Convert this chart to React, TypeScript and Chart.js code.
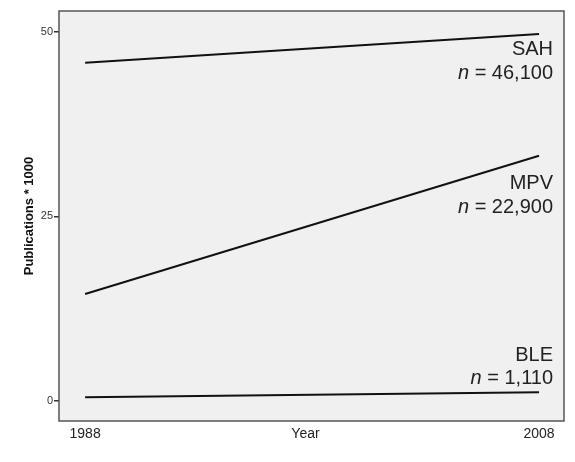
import React, { useEffect, useRef } from "react";
import { Chart, registerables } from "chart.js";

Chart.register(...registerables);

const years = [1988, 2008];
const seriesNames = ["SAH", "MPV", "BLE"];
const sahValues = [45.8, 49.7];
const mpvValues = [14.5, 33.2];
const bleValues = [0.5, 1.2];
const seriesCounts = ["46,100", "22,900", "1,110"];
const yTicks = [0, 25, 50];
const xTicks = [1988, 2008];

const FONT = "'Liberation Sans', Arial, sans-serif";

export default function App() {
  const ref = useRef<HTMLCanvasElement | null>(null);

  useEffect(() => {
    const canvas = ref.current;
    if (!canvas) return;
    const all = [sahValues, mpvValues, bleValues];
    // label offsets relative to each series' last point (px): [nameDy, countDy]
    const labelOffsets = [
      [16, 40],
      [28, 52],
      [-37, -14],
    ];

    const framePlugin = {
      id: "frame",
      beforeDraw(chart: any) {
        const { ctx, chartArea: a } = chart;
        ctx.save();
        ctx.fillStyle = "#f0f0f0";
        ctx.fillRect(a.left, a.top, a.right - a.left, a.bottom - a.top);
        ctx.restore();
      },
      afterDraw(chart: any) {
        const { ctx, chartArea: a, scales } = chart;
        ctx.save();
        ctx.strokeStyle = "#555";
        ctx.lineWidth = 1.5;
        ctx.strokeRect(a.left, a.top, a.right - a.left, a.bottom - a.top);
        // series labels
        ctx.fillStyle = "#222";
        ctx.textAlign = "right";
        ctx.textBaseline = "middle";
        const xs = scales.x.getPixelForValue(years[years.length - 1]) + 14;
        all.forEach((vals, i) => {
          const yEnd = scales.y.getPixelForValue(vals[vals.length - 1]);
          ctx.font = `20px ${FONT}`;
          ctx.fillText(seriesNames[i], xs, yEnd + labelOffsets[i][0]);
          const rest = " = " + seriesCounts[i];
          const restW = ctx.measureText(rest).width;
          ctx.fillText(rest, xs, yEnd + labelOffsets[i][1]);
          ctx.font = `italic 20px ${FONT}`;
          ctx.fillText("n", xs - restW, yEnd + labelOffsets[i][1]);
        });
        // x axis title in tick row
        ctx.font = `14px ${FONT}`;
        ctx.textAlign = "center";
        ctx.fillText("Year", (a.left + a.right) / 2 - 6, a.bottom + 13);
        ctx.restore();
      },
    };

    const chart = new Chart(canvas, {
      type: "line",
      data: {
        datasets: all.map((vals, i) => ({
          label: seriesNames[i],
          data: years.map((y, j) => ({ x: y, y: vals[j] })),
          borderColor: "#111",
          borderWidth: 2,
          pointRadius: 0,
          fill: false,
          tension: 0,
        })),
      },
      options: {
        animation: false,
        responsive: false,
        maintainAspectRatio: false,
        layout: { padding: { top: 11, right: 11, left: 0, bottom: 0 } },
        plugins: { legend: { display: false }, tooltip: { enabled: false } },
        scales: {
          x: {
            type: "linear",
            min: 1986.85,
            max: 2009.1,
            afterBuildTicks(scale: any) {
              scale.ticks = xTicks.map((v) => ({ value: v }));
            },
            afterFit(scale: any) {
              scale.height = 41;
            },
            grid: { display: false, drawTicks: false },
            border: { display: false },
            ticks: {
              padding: 5,
              color: "#222",
              font: { family: FONT, size: 14 },
              callback: (v: any) => String(v),
            },
          },
          y: {
            min: -2.7,
            max: 52.8,
            afterBuildTicks(scale: any) {
              scale.ticks = yTicks.map((v) => ({ value: v }));
            },
            afterFit(scale: any) {
              scale.width = 59;
            },
            grid: {
              drawOnChartArea: false,
              drawTicks: true,
              tickLength: 5,
              color: "#333",
              lineWidth: 1.5,
            },
            border: { display: false },
            ticks: {
              padding: 1,
              color: "#333",
              font: { family: FONT, size: 11 },
            },
            title: {
              display: true,
              text: "Publications * 1000",
              color: "#111",
              font: { family: FONT, size: 13, weight: "bold" },
              padding: { top: 22, bottom: 0 },
            },
          },
        },
      },
      plugins: [framePlugin],
    });
    return () => chart.destroy();
  }, []);

  return (
    <div style={{ position: "fixed", left: 0, top: 0, width: 575, height: 462, background: "#fff" }}>
      <canvas ref={ref} width={575} height={462} />
    </div>
  );
}
